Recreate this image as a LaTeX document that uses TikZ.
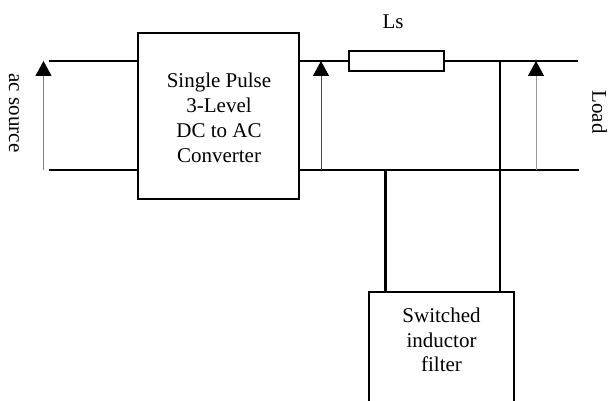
\documentclass[tikz,border=0pt]{standalone}
\usepackage{fontspec}
\setmainfont{Liberation Serif}
\usetikzlibrary{arrows.meta}
\tikzset{
  block/.style={draw,line width=1.4pt,inner sep=0pt},
  label/.style={align=center,inner sep=0pt,font=\fontsize{21}{24.8}\selectfont},
  wire/.style={black,line width=1.5pt},
  volt/.style={line width=0.8pt,-{Triangle[length=15pt,width=16pt,black]}}
}
\begin{document}
\begin{tikzpicture}[x=1pt,y=1pt]
\clip (0,0) rectangle (608,401);
\fill[white] (0,0) rectangle (608,401);
\node[block,minimum width=161pt,minimum height=166pt] (conv) at (218.5,285) {};
\node[block,fill=white,minimum width=95pt,minimum height=20pt] (ls) at (396.5,340) {};
\node[block,minimum width=145pt,minimum height=120pt] (filter) at (441.5,49) {};
\node[label] (convtxt) at (219,283) {Single Pulse\\3-Level\\DC to AC\\Converter};
\node[label] (lstxt) at (393,379) {Ls};
\node[label,rotate=-90] (src) at (14,288) {ac source};
\node[label,rotate=-90] (load) at (599.5,289) {Load};
\node[label] (filtertxt) at (441.5,61) {Switched\\inductor\\filter};
\coordinate (srctop) at (49,340);\coordinate (srcbot) at (49,231);
\coordinate (endtop) at (578,340);\coordinate (endbot) at (579,231);
\coordinate (jtop) at (500,340);\coordinate (jbot) at (385.5,231);
% wires
\draw[wire] (srctop) -- (srctop -| conv.west);
\draw[wire,line width=1.8pt] (srcbot) -- (srcbot -| conv.west);
\draw[wire] (conv.east |- ls.west) -- (ls.west);
\draw[wire] (ls.east) -- (endtop);
\draw[wire,line width=1.8pt] (conv.east |- srcbot) -- (endbot);
\draw[wire,line width=2.2pt] (jbot) -- (jbot |- filter.north);
\draw[wire] (jtop) -- (jtop |- filter.north);
% voltages
\coordinate (va) at (43.5,231);\coordinate (vb) at (321,231);\coordinate (vc) at (536,231);
\draw[volt,gray] (va) -- (43.5,340);
\draw[volt,black!70] (vb) -- (321,340);
\draw[volt,black!40] (vc) -- (536,340);
\end{tikzpicture}
\end{document}
